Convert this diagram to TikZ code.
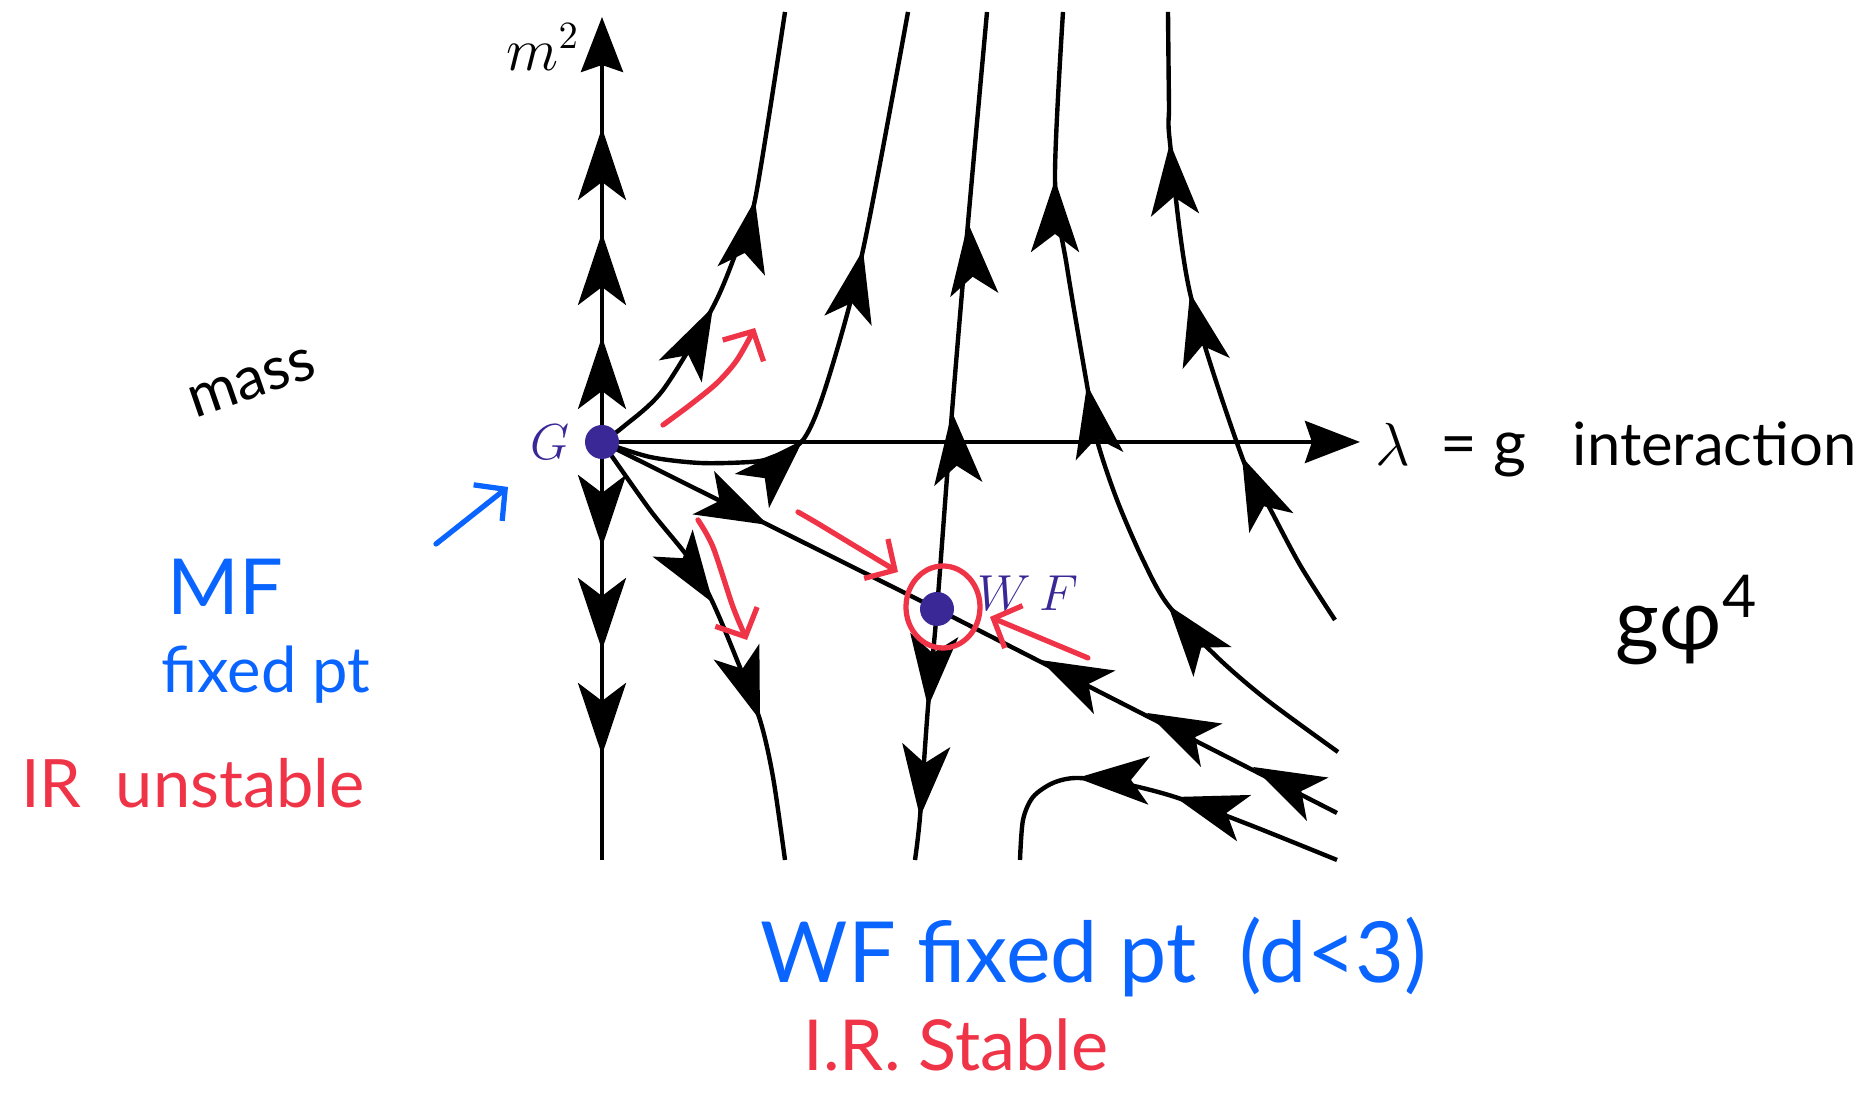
\documentclass[tikz,border=0pt]{standalone}
\usepackage{fontspec}
\usetikzlibrary{arrows.meta,calc,positioning}
\newfontfamily\handfont{Lato}
\definecolor{pointviolet}{RGB}{58,40,150}
\definecolor{inkblue}{RGB}{10,100,255}
\definecolor{inkred}{RGB}{240,52,72}
\tikzset{
  >=Stealth,
  traj/.style={draw=black,line width=1.25pt},
  axisflow/.style={draw=black,line width=1.25pt,-{Stealth[length=5.5mm,width=4.2mm,inset=0.7mm]}},
  flowtip/.style={draw=black,line width=1.25pt,-{Stealth[length=7.2mm,width=4.8mm,inset=1.8mm]}},
  fixedpt/.style={circle,fill=pointviolet,inner sep=0pt,minimum size=3.4mm},
  ptlabel/.style={text=pointviolet,font=\fontsize{14}{17}\selectfont},
  ink/.style={line width=1.5pt,line cap=round,line join=round},
  inkarrow/.style={ink,-{Straight Barb[length=2.2mm,width=4.6mm]}},
  hand/.style={font=\handfont\fontsize{#1}{#1}\selectfont}
}
\newcommand{\flowtip}[3]{%
  \draw[flowtip] ($(#1,#2)+(#3+180:0.1)$) -- (#1,#2);
}

\begin{document}
\begin{tikzpicture}[x=1cm,y=1cm]
  \useasboundingbox (0,0) rectangle (18.75,10.95);

  \coordinate (G) at (6.02,6.53);
  \coordinate (WF) at (9.37,4.86);

  % Axes
  \draw[axisflow] (6.02,2.35) -- (6.02,10.78);
  \draw[axisflow] (G) -- (13.60,6.53);
  \node[font=\fontsize{16}{19}\selectfont] (mtwo) at (5.43,10.48) {$m^2$};
  \node[font=\fontsize{17}{20}\selectfont,anchor=base] (lambda) at (13.93,6.29) {$\lambda$};

  % Flow lines
  \draw[traj] plot[smooth] coordinates
    {(6.02,6.53) (6.23,6.68) (6.63,7.05) (7.13,7.88) (7.37,8.45) (7.55,8.95) (7.85,10.83)};
  \draw[traj] plot[smooth] coordinates
    {(6.02,6.53) (6.50,6.38) (7.00,6.32) (7.50,6.33) (7.70,6.37) (8.03,6.55) (8.27,7.12) (8.63,8.45) (9.08,10.83)};
  \draw[traj] plot[smooth] coordinates
    {(9.87,10.83) (9.68,8.72) (9.52,6.83) (9.37,4.86) (9.28,3.88) (9.20,2.78) (9.15,2.35)};
  \draw[traj] plot[smooth] coordinates
    {(10.63,10.83) (10.55,9.15) (10.67,8.28) (10.87,7.10) (10.97,6.55) (11.17,5.95) (11.43,5.35) (11.68,4.90) (12.17,4.38) (12.67,3.95) (13.38,3.43)};
  \draw[traj] plot[smooth] coordinates
    {(11.68,10.83) (11.69,9.90) (11.70,9.52) (11.90,8.02) (12.42,6.38) (12.67,5.92) (13.00,5.30) (13.35,4.75)};
  \draw[traj] plot[smooth] coordinates
    {(13.37,2.35) (12.50,2.70) (11.75,2.98) (11.20,3.12) (10.77,3.17) (10.53,3.12) (10.33,2.98) (10.23,2.75) (10.20,2.35)};
  \draw[traj] plot[smooth] coordinates
    {(6.02,6.53) (6.50,5.85) (6.90,5.35) (7.13,4.92) (7.37,4.35) (7.60,3.75) (7.73,3.18) (7.85,2.35)};
  \draw[traj] (G) -- (WF) -- (13.37,2.82);

  % Arrows along the flow
  \foreach \y in {9.67,8.62,7.58} {\flowtip{6.02}{\y}{90}}
  \foreach \y in {5.48,4.45,3.40} {\flowtip{6.02}{\y}{270}}
  \flowtip{7.13}{7.88}{63}
  \flowtip{7.55}{8.95}{79}
  \flowtip{8.03}{6.55}{45}
  \flowtip{8.63}{8.45}{78}
  \flowtip{9.68}{8.72}{95}
  \flowtip{9.52}{6.83}{95}
  \flowtip{9.28}{3.88}{265}
  \flowtip{9.20}{2.78}{265}
  \flowtip{10.55}{9.15}{90}
  \flowtip{10.87}{7.10}{100}
  \flowtip{11.68}{4.90}{128}
  \flowtip{11.70}{9.52}{94}
  \flowtip{11.90}{8.02}{103}
  \flowtip{12.42}{6.38}{114}
  \flowtip{7.68}{5.70}{-26.5}
  \foreach \x/\y in {10.40/4.35,11.47/3.82,12.53/3.28} {\flowtip{\x}{\y}{153.5}}
  \flowtip{11.75}{2.98}{163}
  \flowtip{10.77}{3.17}{178}
  \flowtip{7.13}{4.92}{-56}
  \flowtip{7.60}{3.75}{-71}

  % Fixed points
  \node[fixedpt] (Gdot) at (G) {};
  \node[fixedpt] (WFdot) at (WF) {};
  \node[ptlabel] (Glabel) at (5.50,6.53) {$G$};
  \node[ptlabel] (WFlabel) at (10.28,5.02) {$W\,F$};

  % Hand notes
  \node[hand=17,rotate=19] (mass) at (2.52,7.12) {mass};
  \node[hand=22,text=inkblue] (mf) at (2.25,5.08) {MF};
  \node[hand=18,text=inkblue] (mffixed) at (2.66,4.20) {fixed pt};
  \node[hand=19,text=inkred] (irunstable) at (1.93,3.12) {IR\ \ unstable};
  \node[hand=18,anchor=base west] (eqg) at (14.28,6.29) {= g};
  \node[hand=17,anchor=base west,inner sep=0pt] (interaction) at (15.72,6.29) {interaction};
  \node[hand=24] (gphi) at (16.87,4.75) {gφ\textsuperscript{4}};
  \node[hand=24,text=inkblue] (wffixed) at (10.94,1.38) {WF fixed pt\ \ (d<3)};
  \node[hand=20,text=inkred,anchor=base,inner sep=0pt] (irstable) at (9.56,0.24) {I.R. Stable};

  \draw[inkarrow,inkblue] (4.36,5.51) -- (5.08,6.08);
  \draw[inkarrow,inkred] plot[smooth] coordinates
    {(6.63,6.70) (6.90,6.90) (7.17,7.12) (7.37,7.35) (7.55,7.67)};
  \draw[inkarrow,inkred] plot[smooth] coordinates
    {(7.98,5.83) (8.17,5.72) (8.50,5.52) (8.98,5.23)};
  \draw[inkarrow,inkred] plot[smooth] coordinates
    {(6.98,5.75) (7.13,5.48) (7.33,4.88) (7.47,4.55)};
  \draw[inkarrow,inkred] (10.88,4.37) -- (9.90,4.78);
  \draw[ink,inkred] (9.43,4.88) ellipse [x radius=0.37,y radius=0.41];
\end{tikzpicture}
\end{document}
